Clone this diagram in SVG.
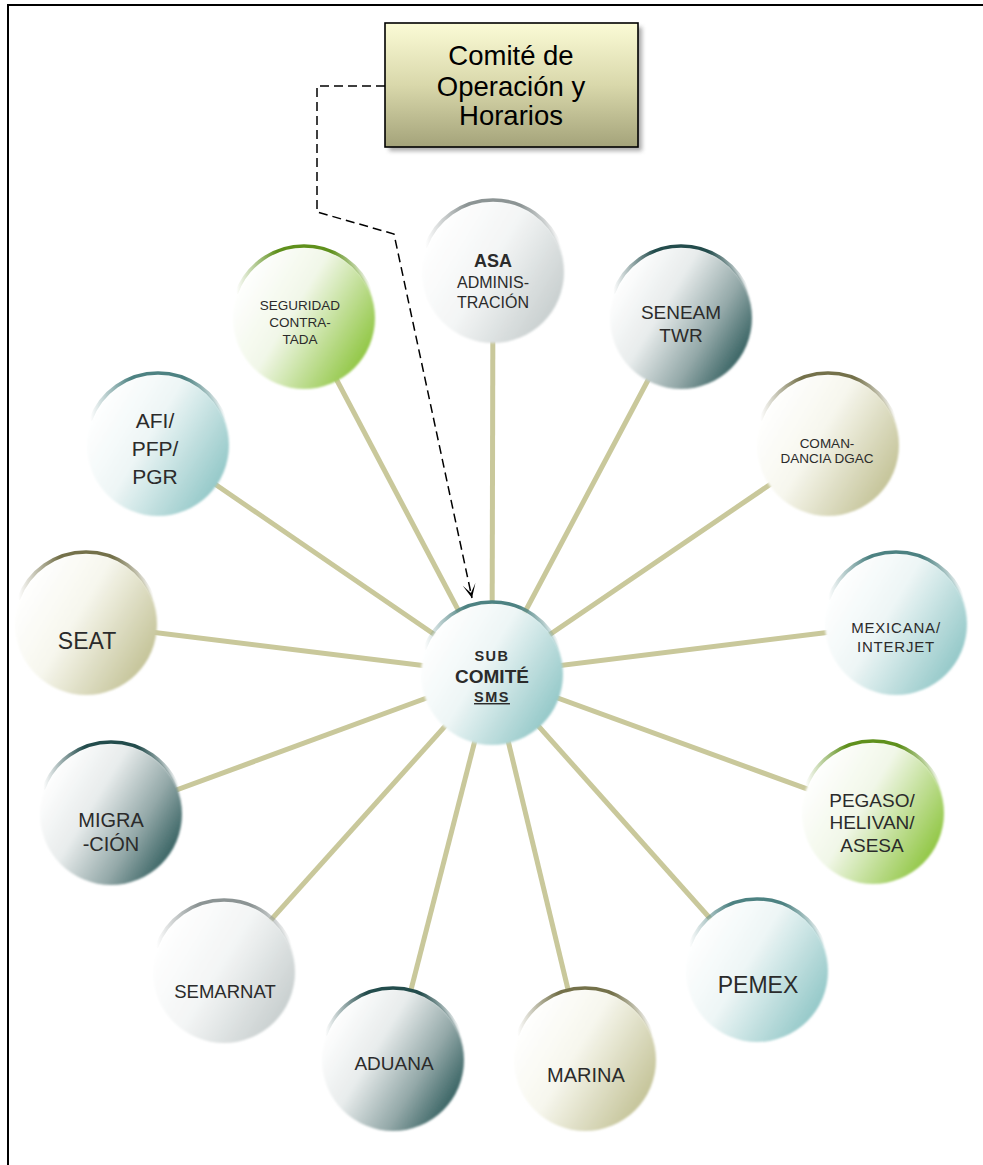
<svg xmlns="http://www.w3.org/2000/svg" width="983" height="1165" viewBox="0 0 983 1165">
<defs>
<style>
.t{font-family:"Liberation Sans",Arial,sans-serif;fill:#2b2b2b;text-anchor:middle}
.b{font-weight:bold}
.conn line{stroke:#c9c89b;stroke-width:5}
.rim{fill:none;stroke-width:3.5}
.dash{fill:none;stroke:#000;stroke-width:1.5;stroke-dasharray:9 5}
</style>
<filter id="sh" x="-10%" y="-10%" width="130%" height="130%"><feGaussianBlur stdDeviation="2"/></filter>
<filter id="soft" x="-5%" y="-5%" width="110%" height="110%"><feGaussianBlur stdDeviation="0.8"/></filter>
<linearGradient id="box" x1="0" y1="0" x2="0" y2="1"><stop offset="0" stop-color="#fbfbd6"/><stop offset="0.5" stop-color="#d9d8ab"/><stop offset="1" stop-color="#a4a37a"/></linearGradient>
<linearGradient id="gGray" x1="0.05" y1="0.25" x2="0.95" y2="0.8"><stop offset="0" stop-color="#ffffff"/><stop offset="0.45" stop-color="#f3f5f5"/><stop offset="1" stop-color="#c6cdcd"/></linearGradient>
<linearGradient id="gDark" x1="0.05" y1="0.25" x2="0.95" y2="0.8"><stop offset="0" stop-color="#ffffff"/><stop offset="0.35" stop-color="#e8ecec"/><stop offset="0.7" stop-color="#93a8a8"/><stop offset="1" stop-color="#2f5c5c"/></linearGradient>
<linearGradient id="gOlive" x1="0.05" y1="0.25" x2="0.95" y2="0.8"><stop offset="0" stop-color="#ffffff"/><stop offset="0.4" stop-color="#f7f7ee"/><stop offset="1" stop-color="#c2c194"/></linearGradient>
<linearGradient id="gTeal" x1="0.05" y1="0.25" x2="0.95" y2="0.8"><stop offset="0" stop-color="#ffffff"/><stop offset="0.4" stop-color="#eef6f6"/><stop offset="1" stop-color="#8fc6c6"/></linearGradient>
<linearGradient id="gGreen" x1="0.05" y1="0.25" x2="0.95" y2="0.8"><stop offset="0" stop-color="#ffffff"/><stop offset="0.4" stop-color="#f1f7e8"/><stop offset="1" stop-color="#8cc43c"/></linearGradient>
<linearGradient id="rGray"><stop offset="0" stop-color="#8c9494" stop-opacity="0"/><stop offset="0.3" stop-color="#8c9494"/><stop offset="0.7" stop-color="#8c9494"/><stop offset="1" stop-color="#8c9494" stop-opacity="0"/></linearGradient>
<linearGradient id="rDark"><stop offset="0" stop-color="#234c4c" stop-opacity="0"/><stop offset="0.3" stop-color="#234c4c"/><stop offset="0.7" stop-color="#234c4c"/><stop offset="1" stop-color="#234c4c" stop-opacity="0"/></linearGradient>
<linearGradient id="rOlive"><stop offset="0" stop-color="#74714a" stop-opacity="0"/><stop offset="0.3" stop-color="#74714a"/><stop offset="0.7" stop-color="#74714a"/><stop offset="1" stop-color="#74714a" stop-opacity="0"/></linearGradient>
<linearGradient id="rTeal"><stop offset="0" stop-color="#4d8282" stop-opacity="0"/><stop offset="0.3" stop-color="#4d8282"/><stop offset="0.7" stop-color="#4d8282"/><stop offset="1" stop-color="#4d8282" stop-opacity="0"/></linearGradient>
<linearGradient id="rGreen"><stop offset="0" stop-color="#5f901c" stop-opacity="0"/><stop offset="0.3" stop-color="#5f901c"/><stop offset="0.7" stop-color="#5f901c"/><stop offset="1" stop-color="#5f901c" stop-opacity="0"/></linearGradient>
<path id="arc" d="M-67.7,-24.6 A72,72 0 0 1 67.7,-24.6"/>
<marker id="arr" viewBox="0 0 16 16" refX="15" refY="8" markerWidth="16" markerHeight="16" markerUnits="userSpaceOnUse" orient="auto">
<path d="M1,1.5 L15,8 L1,14.5 L10,8 Z" fill="#000"/>
</marker>
</defs>
<rect width="983" height="1165" fill="#fff"/>
<path d="M8,1165 V5 H983" fill="none" stroke="#000" stroke-width="2"/>

<g id="connectors" class="conn">
<line x1="492" y1="674" x2="493" y2="272"/>
<line x1="492" y1="674" x2="681" y2="318"/>
<line x1="492" y1="674" x2="828" y2="445"/>
<line x1="492" y1="674" x2="896" y2="624"/>
<line x1="492" y1="674" x2="873" y2="813"/>
<line x1="492" y1="674" x2="757" y2="971"/>
<line x1="492" y1="674" x2="585" y2="1060"/>
<line x1="492" y1="674" x2="393" y2="1060"/>
<line x1="492" y1="674" x2="224" y2="972"/>
<line x1="492" y1="674" x2="111" y2="814"/>
<line x1="492" y1="674" x2="86" y2="624"/>
<line x1="492" y1="674" x2="158" y2="445"/>
<line x1="492" y1="674" x2="304" y2="318"/>
<path class="dash" d="M385,86 H317 V212 L394,234 L472,598" marker-end="url(#arr)"/>
</g>

<g id="comite-operacion">
<rect x="389" y="27" width="253" height="124" fill="#666" opacity="0.55" filter="url(#sh)"/>
<rect x="385" y="23" width="253" height="124" fill="url(#box)" stroke="#000" stroke-width="1.6"/>
<text class="t" style="fill:#000" font-size="27.5" x="511" y="65">Comité de</text>
<text class="t" style="fill:#000" font-size="27.5" x="511" y="96">Operación y</text>
<text class="t" style="fill:#000" font-size="27.5" x="511" y="125">Horarios</text>
</g>

<g id="asa">
<g transform="translate(493,272)"><circle r="71" fill="url(#gGray)" filter="url(#soft)"/><use href="#arc" class="rim" stroke="url(#rGray)"/></g>
<text class="t b" font-size="18" x="493" y="267">ASA</text>
<text class="t" font-size="16" x="493" y="288">ADMINIS-</text>
<text class="t" font-size="16" x="493" y="308">TRACIÓN</text>
</g>

<g id="seneam">
<g transform="translate(681,318)"><circle r="71" fill="url(#gDark)" filter="url(#soft)"/><use href="#arc" class="rim" stroke="url(#rDark)"/></g>
<text class="t" font-size="19" x="681" y="319">SENEAM</text>
<text class="t" font-size="19" x="681" y="342">TWR</text>
</g>

<g id="comandancia">
<g transform="translate(828,445)"><circle r="71" fill="url(#gOlive)" filter="url(#soft)"/><use href="#arc" class="rim" stroke="url(#rOlive)"/></g>
<text class="t" font-size="13.5" x="827" y="448">COMAN-</text>
<text class="t" font-size="13.5" x="827" y="463">DANCIA DGAC</text>
</g>

<g id="mexicana">
<g transform="translate(896,624)"><circle r="71" fill="url(#gTeal)" filter="url(#soft)"/><use href="#arc" class="rim" stroke="url(#rTeal)"/></g>
<text class="t" font-size="15" letter-spacing="0.8" x="896" y="633">MEXICANA/</text>
<text class="t" font-size="15" letter-spacing="0.8" x="896" y="652">INTERJET</text>
</g>

<g id="pegaso">
<g transform="translate(873,813)"><circle r="71" fill="url(#gGreen)" filter="url(#soft)"/><use href="#arc" class="rim" stroke="url(#rGreen)"/></g>
<text class="t" font-size="19" x="872" y="807">PEGASO/</text>
<text class="t" font-size="19" x="872" y="829">HELIVAN/</text>
<text class="t" font-size="19" x="872" y="852">ASESA</text>
</g>

<g id="pemex">
<g transform="translate(757,971)"><circle r="71" fill="url(#gTeal)" filter="url(#soft)"/><use href="#arc" class="rim" stroke="url(#rTeal)"/></g>
<text class="t" font-size="23" x="758" y="993">PEMEX</text>
</g>

<g id="marina">
<g transform="translate(585,1060)"><circle r="71" fill="url(#gOlive)" filter="url(#soft)"/><use href="#arc" class="rim" stroke="url(#rOlive)"/></g>
<text class="t" font-size="20" x="586" y="1082">MARINA</text>
</g>

<g id="aduana">
<g transform="translate(393,1060)"><circle r="71" fill="url(#gDark)" filter="url(#soft)"/><use href="#arc" class="rim" stroke="url(#rDark)"/></g>
<text class="t" font-size="19" x="394" y="1070">ADUANA</text>
</g>

<g id="semarnat">
<g transform="translate(224,972)"><circle r="71" fill="url(#gGray)" filter="url(#soft)"/><use href="#arc" class="rim" stroke="url(#rGray)"/></g>
<text class="t" font-size="18.5" x="225" y="998">SEMARNAT</text>
</g>

<g id="migracion">
<g transform="translate(111,814)"><circle r="71" fill="url(#gDark)" filter="url(#soft)"/><use href="#arc" class="rim" stroke="url(#rDark)"/></g>
<text class="t" font-size="20" x="111" y="827">MIGRA</text>
<text class="t" font-size="20" x="111" y="851">-CIÓN</text>
</g>

<g id="seat">
<g transform="translate(86,624)"><circle r="71" fill="url(#gOlive)" filter="url(#soft)"/><use href="#arc" class="rim" stroke="url(#rOlive)"/></g>
<text class="t" font-size="23" x="87" y="649">SEAT</text>
</g>

<g id="afi">
<g transform="translate(158,445)"><circle r="71" fill="url(#gTeal)" filter="url(#soft)"/><use href="#arc" class="rim" stroke="url(#rTeal)"/></g>
<text class="t" font-size="21" x="155" y="428">AFI/</text>
<text class="t" font-size="21" x="155" y="456">PFP/</text>
<text class="t" font-size="21" x="155" y="484">PGR</text>
</g>

<g id="seguridad">
<g transform="translate(304,318)"><circle r="71" fill="url(#gGreen)" filter="url(#soft)"/><use href="#arc" class="rim" stroke="url(#rGreen)"/></g>
<text class="t" font-size="13.5" x="300" y="310">SEGURIDAD</text>
<text class="t" font-size="13.5" x="300" y="327">CONTRA-</text>
<text class="t" font-size="13.5" x="300" y="344">TADA</text>
</g>

<g id="subcomite">
<g transform="translate(492,674)"><circle r="71" fill="url(#gTeal)" filter="url(#soft)"/><use href="#arc" class="rim" stroke="url(#rTeal)"/></g>
<text class="t b" font-size="14.5" letter-spacing="1.5" x="492" y="661">SUB</text>
<text class="t b" font-size="19" x="492" y="683">COMITÉ</text>
<text class="t b" font-size="14.5" letter-spacing="1.5" x="492" y="702" text-decoration="underline">SMS</text>
</g>
</svg>
